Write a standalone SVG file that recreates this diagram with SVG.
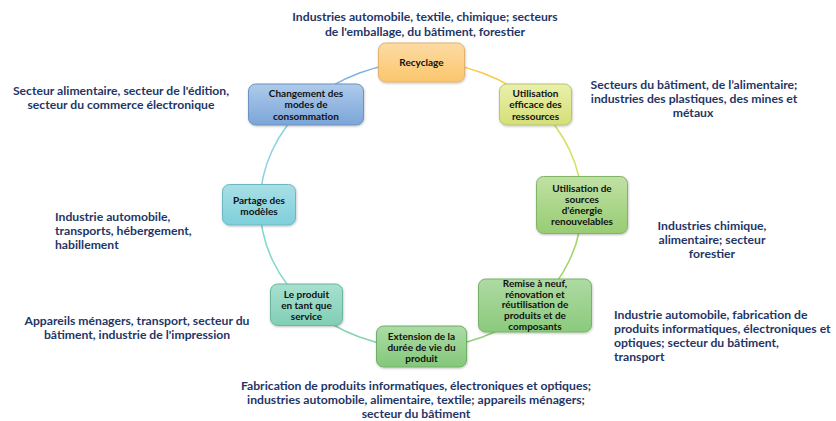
<svg xmlns="http://www.w3.org/2000/svg" width="836" height="421" viewBox="0 0 836 421">
<defs>
<linearGradient id="gOr" x1="0" y1="0" x2="0" y2="1"><stop offset="0" stop-color="#fddba4"/><stop offset="1" stop-color="#fbc66c"/></linearGradient>
<linearGradient id="gBl" x1="0" y1="0" x2="0" y2="1"><stop offset="0" stop-color="#aecbeb"/><stop offset="1" stop-color="#7ba5d8"/></linearGradient>
<linearGradient id="gYg" x1="0" y1="0" x2="0" y2="1"><stop offset="0" stop-color="#eaf0ab"/><stop offset="1" stop-color="#d4df78"/></linearGradient>
<linearGradient id="gGr" x1="0" y1="0" x2="0" y2="1"><stop offset="0" stop-color="#c0e1a4"/><stop offset="1" stop-color="#98cc72"/></linearGradient>
<linearGradient id="gTe" x1="0" y1="0" x2="0" y2="1"><stop offset="0" stop-color="#a9dfe6"/><stop offset="1" stop-color="#7ecfda"/></linearGradient>
<linearGradient id="gTg" x1="0" y1="0" x2="0" y2="1"><stop offset="0" stop-color="#a8e0d0"/><stop offset="1" stop-color="#80ceb6"/></linearGradient>
<linearGradient id="gEx" x1="0" y1="0" x2="0" y2="1"><stop offset="0" stop-color="#acdca6"/><stop offset="1" stop-color="#84c77c"/></linearGradient>
<linearGradient id="gRe" x1="0" y1="0" x2="0" y2="1"><stop offset="0" stop-color="#aedaa2"/><stop offset="1" stop-color="#8bca7d"/></linearGradient>
<filter id="sh" x="-10%" y="-10%" width="130%" height="140%"><feDropShadow dx="0.5" dy="1" stdDeviation="0.8" flood-color="#000" flood-opacity="0.25"/></filter>
</defs>
<style>
.box{stroke-width:1;filter:url(#sh)}
.nt{font-family:Lato,"Liberation Sans",sans-serif;font-weight:bold;font-size:10px;fill:#111;text-anchor:middle}
.lb{font-family:Lato,"Liberation Sans",sans-serif;font-weight:bold;font-size:12.2px;fill:#1f3666}
.c{text-anchor:middle}
.arc{fill:none;stroke-width:1.6}
</style>
<rect width="836" height="421" fill="#fff"/>
<g id="connectors">
<path class="arc" stroke="#f8c94d" d="M421,62 A161,143 0 0 1 534.8,103.9"/>
<path class="arc" stroke="#d6df5c" d="M534.8,103.9 A161,143 0 0 1 582,205"/>
<path class="arc" stroke="#a6d36a" d="M582,205 A161,143 0 0 1 534.8,306.1"/>
<path class="arc" stroke="#92cf7c" d="M534.8,306.1 A161,143 0 0 1 421,348"/>
<path class="arc" stroke="#86d5b0" d="M421,348 A161,143 0 0 1 307.2,306.1"/>
<path class="arc" stroke="#86d7cc" d="M307.2,306.1 A161,143 0 0 1 260,205"/>
<path class="arc" stroke="#8ed2e2" d="M260,205 A161,143 0 0 1 307.2,103.9"/>
<path class="arc" stroke="#80b3e5" d="M307.2,103.9 A161,143 0 0 1 421,62"/>
</g>
<g id="n-recyclage">
<rect class="box" x="378.5" y="43" width="86" height="39" rx="7" fill="url(#gOr)" stroke="#e2b26e"/>
<text class="nt" x="421.5" y="65.5">Recyclage</text>
</g>
<g id="n-changement">
<rect class="box" x="248.5" y="84" width="115" height="41" rx="7" fill="url(#gBl)" stroke="#6d93c2"/>
<text class="nt" x="306" y="97">Changement des</text>
<text class="nt" x="306" y="108">modes de</text>
<text class="nt" x="306" y="119.5">consommation</text>
</g>
<g id="n-efficace">
<rect class="box" x="499.5" y="84" width="72" height="41" rx="7" fill="url(#gYg)" stroke="#b9c56c"/>
<text class="nt" x="535.5" y="97">Utilisation</text>
<text class="nt" x="535.5" y="108">efficace des</text>
<text class="nt" x="535.5" y="119.5">ressources</text>
</g>
<g id="n-renouvelables">
<rect class="box" x="536.5" y="176.5" width="91" height="57" rx="7" fill="url(#gGr)" stroke="#82b466"/>
<text class="nt" x="582" y="192">Utilisation de</text>
<text class="nt" x="582" y="203">sources</text>
<text class="nt" x="582" y="214">d'énergie</text>
<text class="nt" x="582" y="225">renouvelables</text>
</g>
<g id="n-remise">
<rect class="box" x="478.5" y="279" width="113" height="53" rx="7" fill="url(#gRe)" stroke="#76b26a"/>
<text class="nt" x="535" y="287">Remise à neuf,</text>
<text class="nt" x="535" y="297.5">rénovation et</text>
<text class="nt" x="535" y="308">réutilisation de</text>
<text class="nt" x="535" y="318.5">produits et de</text>
<text class="nt" x="535" y="329.5">composants</text>
</g>
<g id="n-extension">
<rect class="box" x="376.5" y="326" width="90" height="41" rx="7" fill="url(#gEx)" stroke="#70ae68"/>
<text class="nt" x="421.5" y="339.5">Extension de la</text>
<text class="nt" x="421.5" y="351">durée de vie du</text>
<text class="nt" x="421.5" y="362">produit</text>
</g>
<g id="n-service">
<rect class="box" x="270.5" y="284" width="72" height="41.5" rx="7" fill="url(#gTg)" stroke="#6cb59e"/>
<text class="nt" x="306.5" y="297.5">Le produit</text>
<text class="nt" x="306.5" y="308.5">en tant que</text>
<text class="nt" x="306.5" y="319.5">service</text>
</g>
<g id="n-partage">
<rect class="box" x="222.5" y="184.5" width="73" height="40.5" rx="7" fill="url(#gTe)" stroke="#6db7c3"/>
<text class="nt" x="259" y="203.5">Partage des</text>
<text class="nt" x="259" y="214.5">modèles</text>
</g>
<g id="labels">
<text class="lb c" x="425" y="21">Industries automobile, textile, chimique; secteurs</text>
<text class="lb c" x="425" y="36">de l'emballage, du bâtiment, forestier</text>
<text class="lb c" x="694" y="89">Secteurs du bâtiment, de l’alimentaire;</text>
<text class="lb c" x="694" y="103">industries des plastiques, des mines et</text>
<text class="lb c" x="693" y="117">métaux</text>
<text class="lb c" x="121" y="95">Secteur alimentaire, secteur de l'édition,</text>
<text class="lb c" x="121" y="109">secteur du commerce électronique</text>
<text class="lb" x="55" y="221">Industrie automobile,</text>
<text class="lb" x="55" y="235">transports, hébergement,</text>
<text class="lb" x="55" y="249">habillement</text>
<text class="lb c" x="712" y="230">Industries chimique,</text>
<text class="lb c" x="712" y="244">alimentaire; secteur</text>
<text class="lb c" x="712" y="258">forestier</text>
<text class="lb c" x="137" y="325">Appareils ménagers, transport, secteur du</text>
<text class="lb c" x="137" y="339">bâtiment, industrie de l'impression</text>
<text class="lb" x="614" y="319">Industrie automobile, fabrication de</text>
<text class="lb" x="614" y="333">produits informatiques, électroniques et</text>
<text class="lb" x="614" y="347">optiques; secteur du bâtiment,</text>
<text class="lb" x="614" y="361">transport</text>
<text class="lb c" x="416" y="390">Fabrication de produits informatiques, électroniques et optiques;</text>
<text class="lb c" x="416" y="404">industries automobile, alimentaire, textile; appareils ménagers;</text>
<text class="lb c" x="416" y="418">secteur du bâtiment</text>
</g>
</svg>
